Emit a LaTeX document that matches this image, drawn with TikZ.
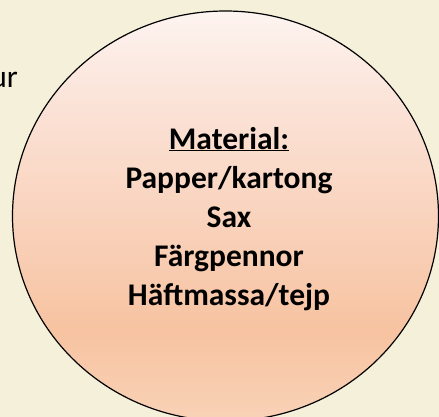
\documentclass[tikz,border=0pt]{standalone}
\usepackage{fontspec}
\setmainfont{Carlito}
\usepackage{xcolor}
\usepackage{tikz}
\usetikzlibrary{shapes.geometric}

\definecolor{bakgrund}{HTML}{F5F0DA}
\definecolor{peachtop}{HTML}{FDF4F0}
\definecolor{peachhigh}{HTML}{FBE3D8}
\definecolor{peachmid}{HTML}{F9D3BD}
\definecolor{peachdeep}{HTML}{F7C3A1}
\definecolor{peachlow}{HTML}{F9D2B7}
\pgfdeclareverticalshading{peach}{100bp}{color(0bp)=(peachlow); color(25bp)=(peachlow);
  color(36bp)=(peachdeep); color(50bp)=(peachmid); color(64bp)=(peachhigh);
  color(75bp)=(peachtop); color(100bp)=(peachtop)}

\begin{document}
\begin{tikzpicture}[x=1pt, y=-1pt, every node/.style={inner sep=0pt, font=\fontsize{31.5}{39}\selectfont}]
    \fill[bakgrund] (0,0) rectangle (439,417);
    \useasboundingbox (0,0) rectangle (439,417);
    \node[anchor=base east] (rest) at (18,88) {ur};
    \begin{scope}
        \clip (0,0) rectangle (439,417);
        \node[ellipse, draw, line width=1.2pt, shading=peach, minimum width=426pt, minimum height=410pt] (cirkel) at (225.5,216) {};
    \end{scope}
    \node[anchor=base, align=center, font=\fontsize{31.5}{39}\selectfont\bfseries] (lista) at (229,305)
        {\underline{Material:}\\ Papper/kartong\\ Sax\\ Färgpennor\\ Häftmassa/tejp};
\end{tikzpicture}
\end{document}
